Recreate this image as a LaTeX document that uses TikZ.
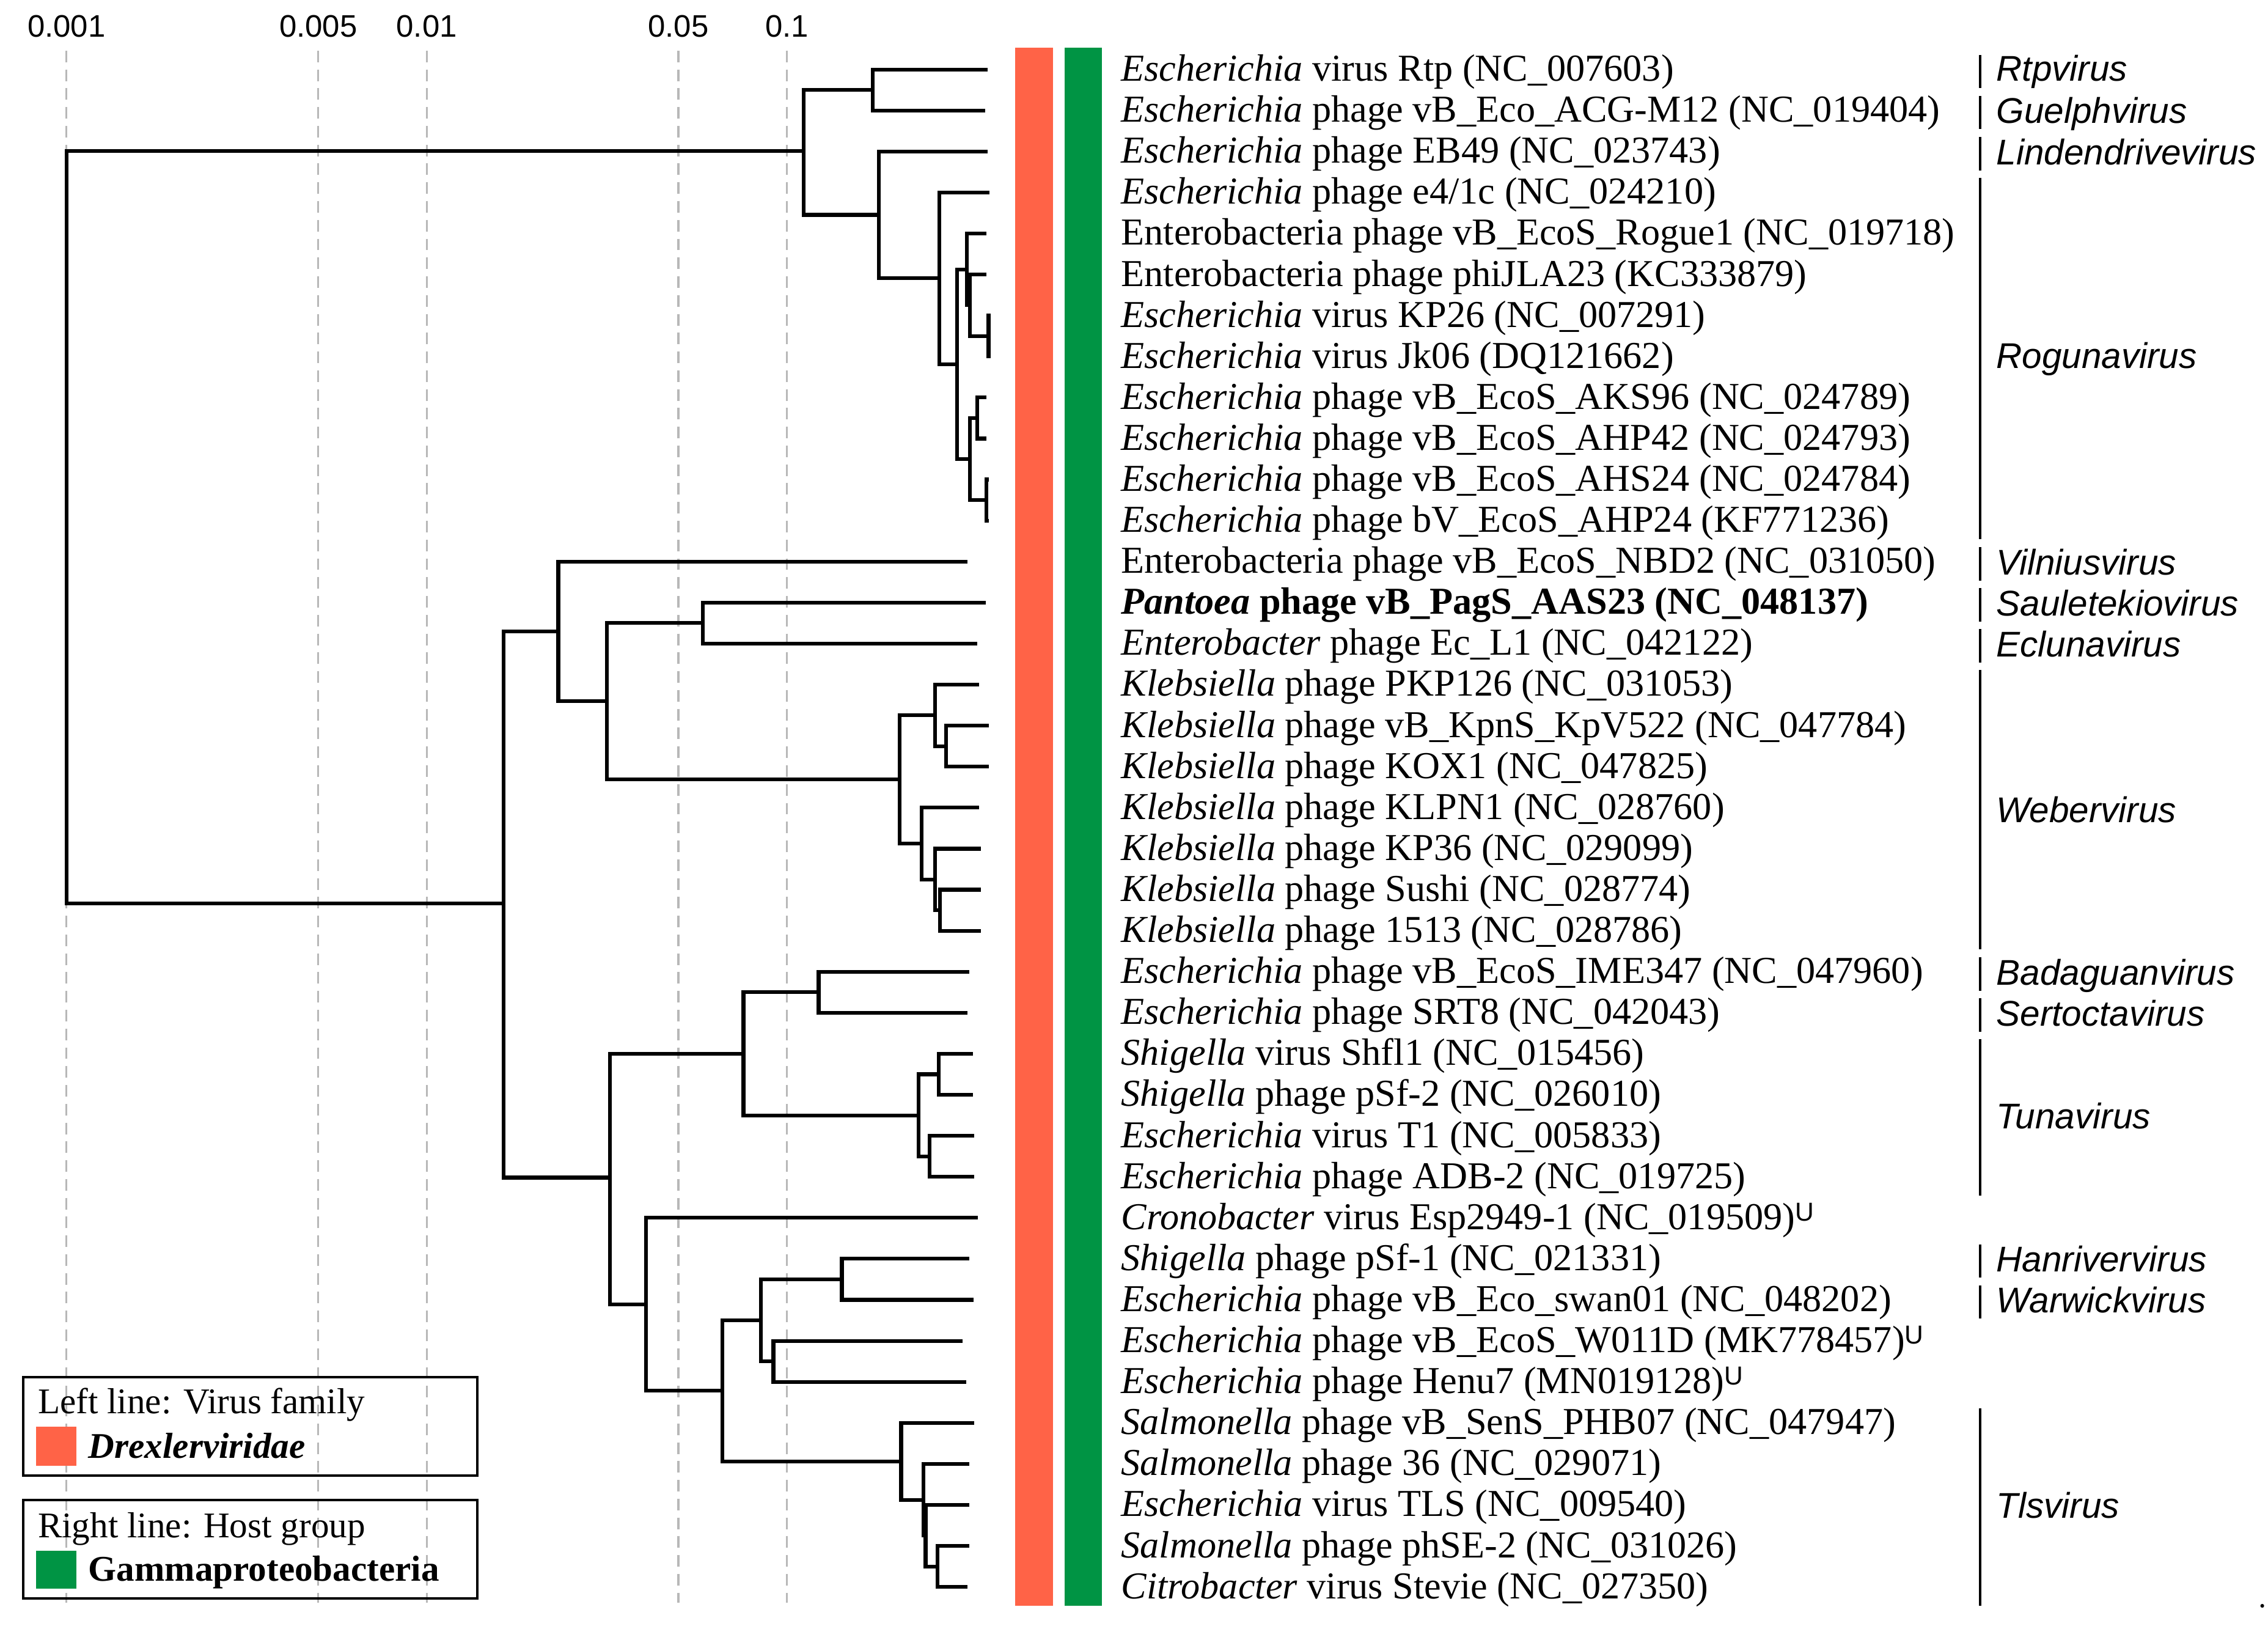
\documentclass[tikz,border=0pt]{standalone}
\usepackage{fontspec}
\setmainfont{Liberation Serif}
\setsansfont{Liberation Sans}
\definecolor{famorange}{RGB}{255,99,71}
\definecolor{hostgreen}{RGB}{0,148,68}
\newcommand{\usupmark}{\raisebox{6pt}{\fontsize{18}{18}\selectfont\sffamily U}}
\begin{document}
\begin{tikzpicture}[x=1pt,y=-1pt,
  br/.style={line width=2.6pt, line join=miter, line cap=butt},
  gridline/.style={draw=black!28, line width=1.3pt, dash pattern=on 8pt off 5pt},
  leaf/.style={anchor=base west, inner sep=0pt, font=\fontsize{26.3}{30}\selectfont},
  genus/.style={anchor=base west, inner sep=0pt, font=\fontsize{24.7}{28}\selectfont\sffamily\itshape},
  axislab/.style={anchor=center, inner sep=0pt, font=\fontsize{21.5}{24}\selectfont\sffamily},
  gline/.style={line width=1.5pt},
  legtext/.style={anchor=base west, inner sep=0pt, font=\fontsize{25}{28}\selectfont},
  legbox/.style={line width=1.8pt}]
\useasboundingbox (0,0) rectangle (1568,1126);
\fill[white] (0,0) rectangle (1568,1126);

% axis labels and dashed grid lines
\foreach \n/\x/\lab in {a1/46/0.001, a2/220/0.005, a3/295/0.01, a4/469/0.05, a5/544/0.1} {
  \node[axislab] (\n) at (\x,18) {\lab};
  \draw[gridline] (\x,35) -- (\x,1108);
}

% coloured bars
\fill[famorange] (702,33) rectangle (728,1110);
\fill[hostgreen] (736,33) rectangle (762,1110);

% leaf end points
\foreach \i/\x in {0/683, 1/681, 2/683, 3/684, 4/682, 5/682, 6/685, 7/685, 8/682, 9/682, 10/683.5, 11/683.5,
  12/669, 13/681.6, 14/675.6, 15/676.7, 16/683.8, 17/683.8, 18/676.7, 19/678, 20/678, 21/678,
  22/670, 23/669, 24/672.6, 25/672.6, 26/673.5, 27/673.5, 28/676, 29/670, 30/673, 31/665.6, 32/668,
  33/673.5, 34/670, 35/670, 36/670, 37/669}
  \coordinate (l\i) at (\x,{48+28.35*\i});

% internal nodes
\coordinate (ROOT) at (46,364.5);
\coordinate (A) at (555.6,104.4);
\coordinate (B) at (603.4,62.2);
\coordinate (C) at (607.7,148.5);
\coordinate (D) at (649.5,192.4);
\coordinate (E) at (661.5,251.8);
\coordinate (F) at (668.5,186.2);
\coordinate (H) at (670.6,211.0);
\coordinate (I) at (683.4,232.3);
\coordinate (G) at (670.6,317.4);
\coordinate (J) at (675.6,289.0);
\coordinate (K) at (682,345.7);
\coordinate (BR) at (348,624.5);
\coordinate (P) at (386,436.5);
\coordinate (Q) at (419.7,484.8);
\coordinate (R) at (486,430.7);
\coordinate (W) at (621.8,538.8);
\coordinate (W1) at (646.5,494.5);
\coordinate (W2) at (654,515.8);
\coordinate (W3) at (637.3,583.1);
\coordinate (W4) at (646.5,607.9);
\coordinate (W5) at (650,629.2);
\coordinate (S) at (421.8,814.0);
\coordinate (T1) at (514,728.5);
\coordinate (M1) at (566,685.9);
\coordinate (Tun) at (635,771.0);
\coordinate (Tu1) at (649,742.6);
\coordinate (Tu2) at (642.7,799.3);
\coordinate (U) at (446.5,901.6);
\coordinate (V) at (499.3,961.4);
\coordinate (M4) at (526,912.7);
\coordinate (M2) at (582,884.3);
\coordinate (M3) at (534.7,941.0);
\coordinate (M5) at (623,1010.1);
\coordinate (X) at (638.3,1036.7);
\coordinate (Y) at (639.9,1061.5);
\coordinate (Z) at (648,1082.8);

% branches
\foreach \p/\c in {ROOT/A, ROOT/BR, A/B, A/C, B/l0, B/l1, C/l2, C/D, D/l3, D/E, E/F, E/G,
  F/l4, F/H, H/l5, H/I, I/l6, I/l7, G/J, G/K, J/l8, J/l9, K/l10, K/l11,
  BR/P, BR/S, P/l12, P/Q, Q/R, Q/W, R/l13, R/l14, W/W1, W/W3, W1/l15, W1/W2, W2/l16, W2/l17,
  W3/l18, W3/W4, W4/l19, W4/W5, W5/l20, W5/l21,
  S/T1, S/U, T1/M1, T1/Tun, M1/l22, M1/l23, Tun/Tu1, Tun/Tu2, Tu1/l24, Tu1/l25, Tu2/l26, Tu2/l27,
  U/l28, U/V, V/M4, V/M5, M4/M2, M4/M3, M2/l29, M2/l30, M3/l31, M3/l32,
  M5/l33, M5/X, X/l34, X/Y, Y/l35, Y/Z, Z/l36, Z/l37}
  \draw[br] (\p) |- (\c);

% leaf labels
\node[leaf] (t0) at (775,{56+28.35*0}) {\textit{Escherichia} virus Rtp (NC\_007603)};
\node[leaf] (t1) at (775,{56+28.35*1}) {\textit{Escherichia} phage vB\_Eco\_ACG-M12 (NC\_019404)};
\node[leaf] (t2) at (775,{56+28.35*2}) {\textit{Escherichia} phage EB49 (NC\_023743)};
\node[leaf] (t3) at (775,{56+28.35*3}) {\textit{Escherichia} phage e4/1c (NC\_024210)};
\node[leaf] (t4) at (775,{56+28.35*4}) {Enterobacteria phage vB\_EcoS\_Rogue1 (NC\_019718)};
\node[leaf] (t5) at (775,{56+28.35*5}) {Enterobacteria phage phiJLA23 (KC333879)};
\node[leaf] (t6) at (775,{56+28.35*6}) {\textit{Escherichia} virus KP26 (NC\_007291)};
\node[leaf] (t7) at (775,{56+28.35*7}) {\textit{Escherichia} virus Jk06 (DQ121662)};
\node[leaf] (t8) at (775,{56+28.35*8}) {\textit{Escherichia} phage vB\_EcoS\_AKS96 (NC\_024789)};
\node[leaf] (t9) at (775,{56+28.35*9}) {\textit{Escherichia} phage vB\_EcoS\_AHP42 (NC\_024793)};
\node[leaf] (t10) at (775,{56+28.35*10}) {\textit{Escherichia} phage vB\_EcoS\_AHS24 (NC\_024784)};
\node[leaf] (t11) at (775,{56+28.35*11}) {\textit{Escherichia} phage bV\_EcoS\_AHP24 (KF771236)};
\node[leaf] (t12) at (775,{56+28.35*12}) {Enterobacteria phage vB\_EcoS\_NBD2 (NC\_031050)};
\node[leaf] (t13) at (775,{56+28.35*13}) {\textbf{\textit{Pantoea} phage vB\_PagS\_AAS23 (NC\_048137)}};
\node[leaf] (t14) at (775,{56+28.35*14}) {\textit{Enterobacter} phage Ec\_L1 (NC\_042122)};
\node[leaf] (t15) at (775,{56+28.35*15}) {\textit{Klebsiella} phage PKP126 (NC\_031053)};
\node[leaf] (t16) at (775,{56+28.35*16}) {\textit{Klebsiella} phage vB\_KpnS\_KpV522 (NC\_047784)};
\node[leaf] (t17) at (775,{56+28.35*17}) {\textit{Klebsiella} phage KOX1 (NC\_047825)};
\node[leaf] (t18) at (775,{56+28.35*18}) {\textit{Klebsiella} phage KLPN1 (NC\_028760)};
\node[leaf] (t19) at (775,{56+28.35*19}) {\textit{Klebsiella} phage KP36 (NC\_029099)};
\node[leaf] (t20) at (775,{56+28.35*20}) {\textit{Klebsiella} phage Sushi (NC\_028774)};
\node[leaf] (t21) at (775,{56+28.35*21}) {\textit{Klebsiella} phage 1513 (NC\_028786)};
\node[leaf] (t22) at (775,{56+28.35*22}) {\textit{Escherichia} phage vB\_EcoS\_IME347 (NC\_047960)};
\node[leaf] (t23) at (775,{56+28.35*23}) {\textit{Escherichia} phage SRT8 (NC\_042043)};
\node[leaf] (t24) at (775,{56+28.35*24}) {\textit{Shigella} virus Shf\kern0pt l1 (NC\_015456)};
\node[leaf] (t25) at (775,{56+28.35*25}) {\textit{Shigella} phage pSf-2 (NC\_026010)};
\node[leaf] (t26) at (775,{56+28.35*26}) {\textit{Escherichia} virus T1 (NC\_005833)};
\node[leaf] (t27) at (775,{56+28.35*27}) {\textit{Escherichia} phage ADB-2 (NC\_019725)};
\node[leaf] (t28) at (775,{56+28.35*28}) {\textit{Cronobacter} virus Esp2949-1 (NC\_019509)\usupmark};
\node[leaf] (t29) at (775,{56+28.35*29}) {\textit{Shigella} phage pSf-1 (NC\_021331)};
\node[leaf] (t30) at (775,{56+28.35*30}) {\textit{Escherichia} phage vB\_Eco\_swan01 (NC\_048202)};
\node[leaf] (t31) at (775,{56+28.35*31}) {\textit{Escherichia} phage vB\_EcoS\_W011D (MK778457)\usupmark};
\node[leaf] (t32) at (775,{56+28.35*32}) {\textit{Escherichia} phage Henu7 (MN019128)\usupmark};
\node[leaf] (t33) at (775,{56+28.35*33}) {\textit{Salmonella} phage vB\_SenS\_PHB07 (NC\_047947)};
\node[leaf] (t34) at (775,{56+28.35*34}) {\textit{Salmonella} phage 36 (NC\_029071)};
\node[leaf] (t35) at (775,{56+28.35*35}) {\textit{Escherichia} virus TLS (NC\_009540)};
\node[leaf] (t36) at (775,{56+28.35*36}) {\textit{Salmonella} phage phSE-2 (NC\_031026)};
\node[leaf] (t37) at (775,{56+28.35*37}) {\textit{Citrobacter} virus Stevie (NC\_027350)};

% genus brackets
\foreach \a/\b in {0/0, 1/1, 2/2, 3/11, 12/12, 13/13, 14/14, 15/21, 22/22, 23/23, 24/27, 29/29, 30/30, 33/37}
  \draw[gline] (1369,{38+28.35*\a}) -- (1369,{61+28.35*\b});

\node[genus] (g1) at (1380,{56+28.35*0}) {Rtpvirus};
\node[genus] (g2) at (1380,{57+28.35*1}) {Guelphvirus};
\node[genus] (g3) at (1380,{57+28.35*2}) {Lindendrivevirus};
\node[genus] (g4) at (1380,{56+28.35*7}) {Rogunavirus};
\node[genus] (g5) at (1380,{57+28.35*12}) {Vilniusvirus};
\node[genus] (g6) at (1380,{57+28.35*13}) {Sauletekiovirus};
\node[genus] (g7) at (1380,{57+28.35*14}) {Eclunavirus};
\node[genus] (g8) at (1380,{58+28.35*18}) {Webervirus};
\node[genus] (g9) at (1380,{57+28.35*22}) {Badaguanvirus};
\node[genus] (g10) at (1380,{57+28.35*23}) {Sertoctavirus};
\node[genus] (g11) at (1380,780) {Tunavirus};
\node[genus] (g12) at (1380,{57+28.35*29}) {Hanrivervirus};
\node[genus] (g13) at (1380,{57+28.35*30}) {Warwickvirus};
\node[genus] (g14) at (1380,{57+28.35*35}) {Tlsvirus};

% legend
\draw[legbox] (16,952) rectangle (330,1020);
\node[legtext] (lg1) at (26,977) {Left line: Virus family};
\fill[famorange] (25,986) rectangle (53,1013);
\node[legtext] (lg2) at (61,1008) {\textbf{\textit{Drexlerviridae}}};
\draw[legbox] (16,1037) rectangle (330,1105);
\node[legtext] (lg3) at (26,1063) {Right line: Host group};
\fill[hostgreen] (25,1072) rectangle (53,1098);
\node[legtext] (lg4) at (61,1093) {\textbf{Gammaproteobacteria}};

% small mark at the lower right corner
\fill (1564,1110) circle (1.3);
\end{tikzpicture}
\end{document}
